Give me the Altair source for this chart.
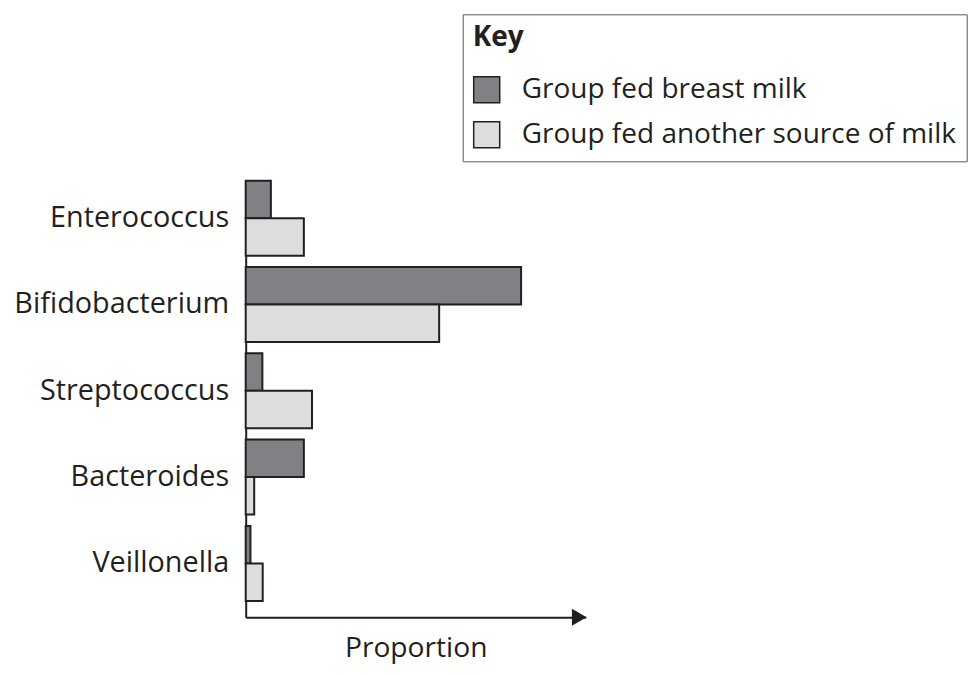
import altair as alt
import pandas as pd

# ---- data (arbitrary proportion units, axis has no scale) ----
categories = ["Enterococcus", "Bifidobacterium", "Streptococcus", "Bacteroides", "Veillonella"]
groups = ["Group fed breast milk", "Group fed another source of milk"]
breast_milk = [7.4, 81.0, 4.9, 17.1, 1.4]
other_milk = [17.1, 56.9, 19.5, 2.5, 5.0]

rows = []
for c, b, o in zip(categories, breast_milk, other_milk):
    rows.append({"bacterium": c, "group": groups[0], "proportion": b})
    rows.append({"bacterium": c, "group": groups[1], "proportion": o})
df = pd.DataFrame(rows)

FONT = "Open Sans"
INK = "#231f20"
DARK = "#808184"
LIGHT = "#dcdddf"

W = 340
H = 436.6

bars = alt.Chart(df).mark_bar(stroke=INK, strokeWidth=2, opacity=1).encode(
    y=alt.Y(
        "bacterium:N",
        sort=categories,
        scale=alt.Scale(paddingInner=0.131, paddingOuter=0.095, align=0),
        axis=alt.Axis(
            title=None, ticks=False, domainColor=INK, domainWidth=2,
            labelFont=FONT, labelFontSize=28.8, labelColor=INK, labelPadding=17,
            labelLimit=400,
        ),
    ),
    yOffset=alt.YOffset("group:N", sort=groups),
    x=alt.X(
        "proportion:Q",
        scale=alt.Scale(domain=[0, 100], nice=False),
        axis=alt.Axis(
            title="Proportion", labels=False, ticks=False, grid=False,
            domainColor=INK, domainWidth=2,
            titleFont=FONT, titleFontSize=28.2, titleFontWeight="normal",
            titleColor=INK, titlePadding=17,
        ),
    ),
    color=alt.Color(
        "group:N",
        sort=groups,
        scale=alt.Scale(domain=groups, range=[DARK, LIGHT]),
        legend=alt.Legend(
            title="Key", orient="none", legendX=217, legendY=-166.4,
            padding=10, strokeColor="#58595b",
            titleFont=FONT, titleFontSize=28, titleFontWeight="bold",
            titleColor=INK, titlePadding=23.5,
            labelFont=FONT, labelFontSize=28, labelColor=INK,
            labelLimit=600, labelOffset=21,
            symbolType="square", symbolSize=676, symbolStrokeColor=INK,
            symbolStrokeWidth=1.5, symbolOpacity=1, rowPadding=13,
        ),
    ),
)

arrow = alt.Chart(pd.DataFrame({"a": [0]})).mark_point(
    shape="triangle-right", filled=True, size=289, color=INK, opacity=1
).encode(x=alt.value(333.6), y=alt.value(H))

chart = alt.layer(bars, arrow).properties(
    width=W,
    height=H,
    autosize="none",
    padding={"left": 237.7, "top": 172.7, "right": 383.3, "bottom": 49},
).configure_view(stroke=None)

chart.save("out.html", embed_options={"renderer": "svg", "actions": False})
